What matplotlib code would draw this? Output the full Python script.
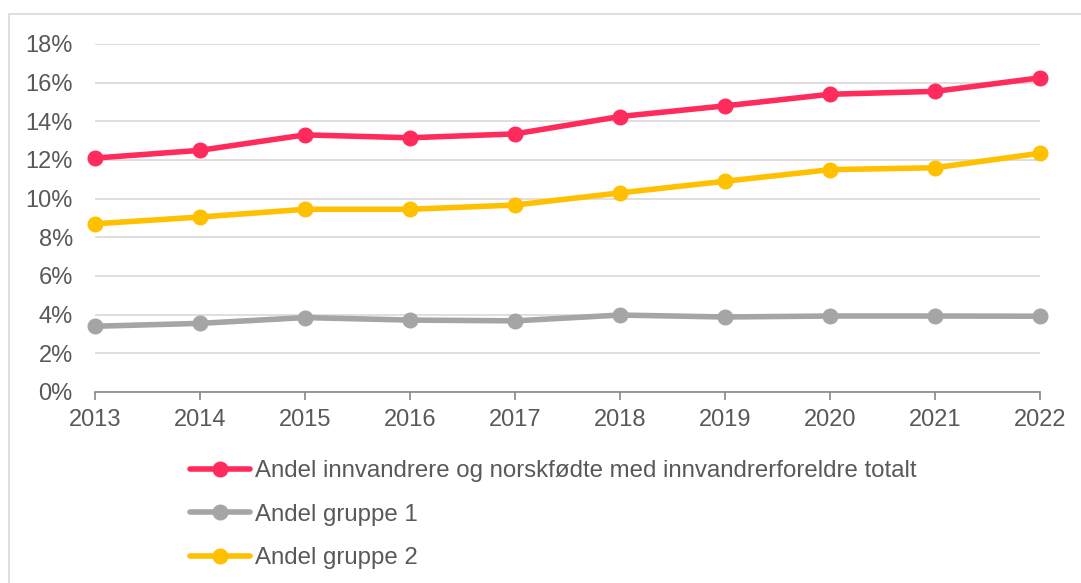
import matplotlib
matplotlib.use("Agg")
import matplotlib.pyplot as plt
from matplotlib.patches import Rectangle
from matplotlib.ticker import FuncFormatter

years = [2013, 2014, 2015, 2016, 2017, 2018, 2019, 2020, 2021, 2022]
totalt = [12.1, 12.5, 13.3, 13.15, 13.35, 14.25, 14.8, 15.4, 15.55, 16.25]
gruppe1 = [3.4, 3.55, 3.85, 3.72, 3.68, 3.98, 3.88, 3.93, 3.93, 3.92]
gruppe2 = [8.7, 9.05, 9.45, 9.45, 9.67, 10.3, 10.9, 11.5, 11.6, 12.35]
labels = ["Andel innvandrere og norskfødte med innvandrerforeldre totalt",
          "Andel gruppe 1", "Andel gruppe 2"]
colors = ["#FF2B5C", "#A5A5A5", "#FFC000"]

plt.rcParams['font.family'] = ['Liberation Sans', 'DejaVu Sans']

fig = plt.figure(figsize=(10.81, 5.83), dpi=100)
fig.patches.append(Rectangle((9/1081, -0.1), 1.2, 1 - 14/583 + 0.1,
                             transform=fig.transFigure, fill=False,
                             edgecolor="#D9D9D9", linewidth=1.2))
ax = fig.add_axes([95/1081, 1 - 392/583, (1040 - 95)/1081, (392 - 44)/583])

for vals, lab, c in zip([totalt, gruppe1, gruppe2], labels, colors):
    ax.plot(years, [v / 100 for v in vals], color=c, lw=4, marker='o',
            markersize=10.5, label=lab, solid_capstyle='round', clip_on=False, zorder=3)

ax.set_xlim(2013, 2022)
ax.set_ylim(0, 0.18)
ax.set_yticks([i / 100 for i in range(0, 19, 2)])
ax.yaxis.set_major_formatter(FuncFormatter(lambda v, p: f"{round(v*100)}%"))
ax.set_xticks(years)
ax.grid(axis='y', color="#D9D9D9", lw=1.2)
ax.set_axisbelow(True)
for s in ['top', 'right', 'left']:
    ax.spines[s].set_visible(False)
ax.spines['bottom'].set_color("#888888")
ax.spines['bottom'].set_linewidth(1.2)
ax.spines['bottom'].set_zorder(2)
ax.tick_params(axis='y', length=0, pad=16, labelsize=17, labelcolor="#595959")
ax.tick_params(axis='x', length=6, width=1.2, color="#888888", pad=6,
               labelsize=17, labelcolor="#595959")

fig.legend(loc='upper left', bbox_to_anchor=(190/1081, 1 - 460/583), frameon=False,
           fontsize=17.3, handlelength=2.5, handletextpad=0.2, labelspacing=0.9,
           labelcolor="#595959", borderaxespad=0, borderpad=0)

fig.savefig("out.png", dpi=100, facecolor="white")
